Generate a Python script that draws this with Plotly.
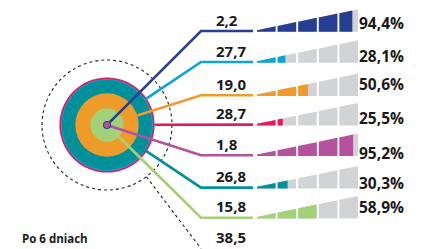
import plotly.graph_objects as go
import math

# ---------------- data ----------------
values = [2.2, 27.7, 19.0, 28.7, 1.8, 26.8, 15.8, 38.5]
value_labels = ["2,2", "27,7", "19,0", "28,7", "1,8", "26,8", "15,8", "38,5"]
percents = [94.4, 28.1, 50.6, 25.5, 95.2, 30.3, 58.9]
percent_labels = ["94,4%", "28,1%", "50,6%", "25,5%", "95,2%", "30,3%", "58,9%"]
caption = "Po 6 dniach"

# ---------------- style / layout ----------------
colors = ["#263f93", "#0ba4da", "#ef9b29", "#e6185b", "#b6519d", "#00909a", "#a3d177", None]
gray = "#d2d3d5"
ink = "#1a1a1a"
W, H = 421, 249
PAGE_OFF = 8  # default body margin of the page
cx, cy = 107, 125
# ring radius (px) for each row, ranked like the values
ring_r = [4, 46, 31.7, 47.6, 3, 45, 16.7, 65]
row_y = [31, 62, 95.3, 124.6, 155.3, 187.6, 217.7, 248.6]
pct_y = [23, 56, 84, 118, 152.7, 183.3, 207]
elbow_x = 201
line_end_x = 253
bar_x0, bar_w = 257, 101
seg_n, seg_gap = 5, 2.0
h_left, h_right = 1.6, 22.5
font_fam = "Open Sans"

fig = go.Figure()
shapes = []

# rings (largest first)
order = sorted(range(len(values)), key=lambda i: -ring_r[i])
for i in order:
    r = ring_r[i]
    if colors[i] is None:
        shapes.append(dict(type="circle", xref="x", yref="y", x0=cx - r, x1=cx + r,
                           y0=cy - r, y1=cy + r, line=dict(color="#222", width=1.1, dash="dot"),
                           fillcolor="rgba(0,0,0,0)", layer="below"))
    elif r > 5:
        shapes.append(dict(type="circle", xref="x", yref="y", x0=cx - r, x1=cx + r,
                           y0=cy - r, y1=cy + r, line=dict(width=0),
                           fillcolor=colors[i], layer="below"))

# connector lines
for i in range(len(values)):
    ey = row_y[i]
    dx, dy = elbow_x - cx, ey - cy
    d = math.hypot(dx, dy)
    sx, sy = cx + ring_r[i] * dx / d, cy + ring_r[i] * dy / d
    if colors[i] is None:
        fig.add_trace(go.Scatter(x=[sx, elbow_x], y=[sy, ey], mode="lines",
                                 line=dict(color="#222", width=1.1, dash="dot"),
                                 hoverinfo="skip", showlegend=False))
    else:
        fig.add_trace(go.Scatter(x=[sx, elbow_x, line_end_x], y=[sy, ey, ey], mode="lines",
                                 line=dict(color=colors[i], width=2.6),
                                 hoverinfo="skip", showlegend=False))

# center dot above lines
for i in sorted(range(len(values)), key=lambda k: -ring_r[k]):
    r = ring_r[i]
    if colors[i] is not None and r <= 5:
        shapes.append(dict(type="circle", xref="x", yref="y", x0=cx - r, x1=cx + r,
                           y0=cy - r, y1=cy + r, line=dict(width=0),
                           fillcolor=colors[i], layer="above"))

# staircase bars
seg_w = (bar_w - (seg_n - 1) * seg_gap) / seg_n


def top(x, base):
    return base - (h_left + (h_right - h_left) * (x - bar_x0) / bar_w)


def poly(a, b, base):
    return [a, a, b, b, a, None], [base, top(a, base), top(b, base), base, base, None]


for i, p in enumerate(percents):
    base = row_y[i] + 0.8
    fill_end = bar_x0 + p / 100 * bar_w
    gx, gy, cxs, cys = [], [], [], []
    for s in range(seg_n):
        a = bar_x0 + s * (seg_w + seg_gap)
        b = a + seg_w
        px, py = poly(a, b, base)
        gx += px; gy += py
        if fill_end > a:
            px, py = poly(a, min(b, fill_end), base)
            cxs += px; cys += py
    fig.add_trace(go.Scatter(x=gx, y=gy, fill="toself", fillcolor=gray, mode="lines",
                             line=dict(width=0), hoverinfo="skip", showlegend=False))
    fig.add_trace(go.Scatter(x=cxs, y=cys, fill="toself", fillcolor=colors[i], mode="lines",
                             line=dict(width=0), hoverinfo="skip", showlegend=False))

annotations = []
for i, t in enumerate(value_labels):
    annotations.append(dict(x=214, y=row_y[i] - 11.5, xref="x", yref="y", text="<b>%s</b>" % t,
                            showarrow=False, xanchor="left", yanchor="middle",
                            font=dict(family=font_fam, size=15, color=ink)))
for i, t in enumerate(percent_labels):
    annotations.append(dict(x=406, y=pct_y[i], xref="x", yref="y", text="<b>%s</b>" % t,
                            showarrow=False, xanchor="right", yanchor="middle",
                            font=dict(family=font_fam, size=15.5, color=ink)))
annotations.append(dict(x=20, y=238, xref="x", yref="y", text="<b>%s</b>" % caption,
                        showarrow=False, xanchor="left", yanchor="middle",
                        font=dict(family=font_fam, size=11.5, color=ink)))

fig.update_layout(
    width=W - PAGE_OFF, height=H - PAGE_OFF, margin=dict(l=0, r=0, t=0, b=0),
    paper_bgcolor="white", plot_bgcolor="white",
    xaxis=dict(range=[PAGE_OFF, W], visible=False, fixedrange=True),
    yaxis=dict(range=[H, PAGE_OFF], visible=False, fixedrange=True),
    shapes=shapes, annotations=annotations, showlegend=False,
)
fig.write_html("out.html", config={"displayModeBar": False})
